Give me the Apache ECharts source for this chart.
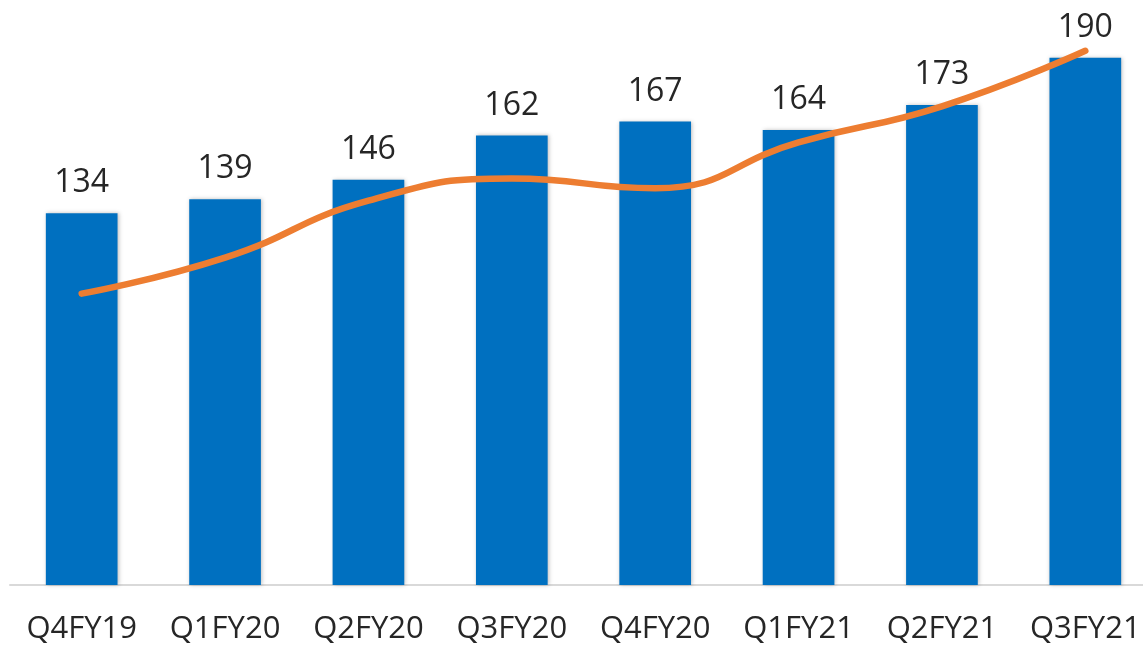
<!DOCTYPE html>
<html>
<head>
<meta charset="utf-8">
<script src="https://cdn.jsdelivr.net/npm/echarts@6/dist/echarts.min.js"></script>
<style>
    html, body { margin: 0; padding: 0; background: #fff; }
    #chart { width: 1143px; height: 650px; }
</style>
</head>
<body>
<div id="chart"></div>
<script>
var quarters = ['Q4FY19', 'Q1FY20', 'Q2FY20', 'Q3FY20', 'Q4FY20', 'Q1FY21', 'Q2FY21', 'Q3FY21'];
var barValues = [134, 139, 146, 162, 167, 164, 173, 190];
// orange trend line
var trendValues = [105, 118, 138.5, 146.5, 143, 159.5, 172.5, 192.5];

var chart = echarts.init(document.getElementById('chart'));

chart.setOption({
    animation: false,
    grid: { left: 10, top: 30, bottom: 65, right: -14, outerBoundsMode: 'none', containLabel: false },
    xAxis: {
        type: 'category',
        data: quarters,
        axisTick: { show: false },
        axisLine: { lineStyle: { color: '#d9d9d9', width: 2 } },
        axisLabel: {
            interval: 0,
            margin: 29,
            fontFamily: 'Open Sans',
            fontSize: 31,
            color: '#262626'
        }
    },
    yAxis: {
        type: 'value',
        min: 0,
        max: 200,
        show: false,
        splitLine: { show: false }
    },
    series: [
        {
            type: 'bar',
            data: barValues,
            barWidth: '50%',
            itemStyle: {
                color: '#0070c0',
                shadowColor: 'rgba(0,0,0,0.25)',
                shadowBlur: 4,
                shadowOffsetX: 1,
                shadowOffsetY: 0
            },
            label: {
                show: true,
                position: 'top',
                distance: 14,
                fontFamily: 'Open Sans',
                fontSize: 32,
                color: '#262626'
            }
        },
        {
            type: 'line',
            data: trendValues,
            smooth: true,
            showSymbol: false,
            lineStyle: { color: '#ed7d31', width: 6.5, cap: 'round' },
            z: 3
        }
    ]
});
</script>
</body>
</html>
